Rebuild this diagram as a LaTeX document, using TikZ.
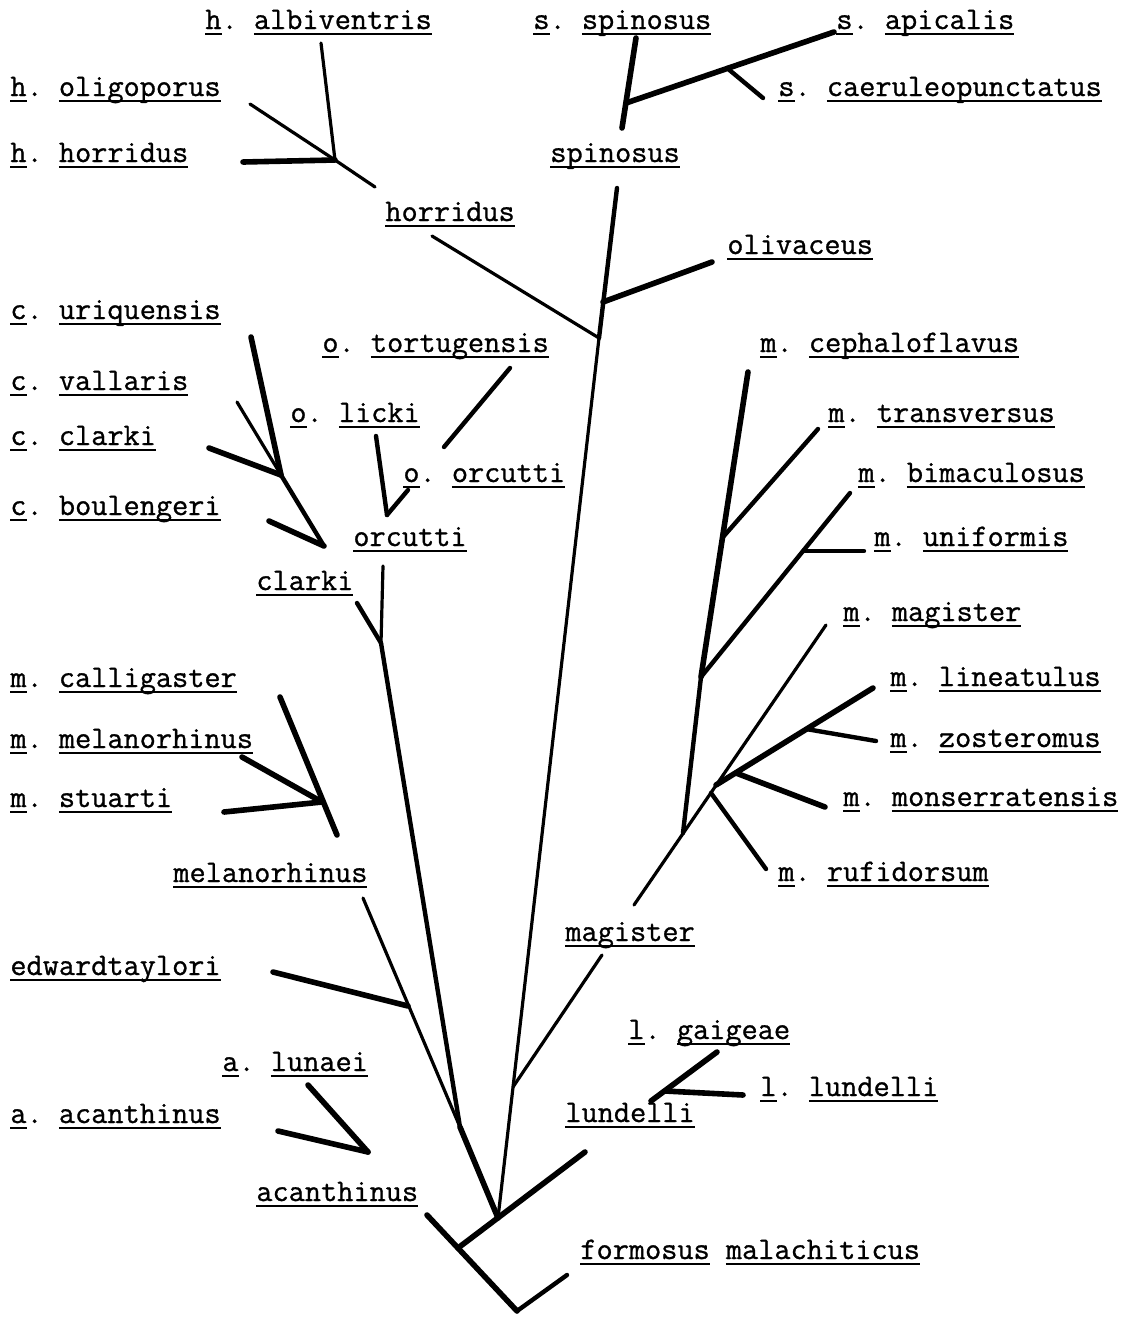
\documentclass[tikz,border=0pt]{standalone}
\usepackage{fontspec}
\usepackage{tikz}

\newfontfamily\typew{lmmono12-regular.otf}[FakeBold=0.9]
\newcommand\typeul[1]{\setbox0=\hbox{#1}\rlap{\rule[-3.1pt]{\wd0}{1.3pt}}\box0}
\newcommand\taxon[2]{\typeul{#1}.\ \typeul{#2}}

\tikzset{
    lbl/.style={anchor=base west, inner sep=0pt, font=\fontsize{15.7}{18}\typew},
    thinbr/.style={line width=1.6pt, line cap=round},
    midbr/.style={line width=2.2pt, line cap=round},
    thickbr/.style={line width=2.8pt, line cap=round},
}

\begin{document}
\begin{tikzpicture}[x=0.5pt, y=-0.5pt]
    \useasboundingbox (0,0) rectangle (1134,1319);

    % --- labels, left column ---
    \node[lbl] (halb) at (205,29) {\taxon{h}{albiventris}};
    \node[lbl] (holi) at (10,96) {\taxon{h}{oligoporus}};
    \node[lbl] (hhor) at (10,162) {\taxon{h}{horridus}};
    \node[lbl] (horr) at (385,221) {\typeul{horridus}};
    \node[lbl] (curi) at (10,319) {\taxon{c}{uriquensis}};
    \node[lbl] (cval) at (10,390) {\taxon{c}{vallaris}};
    \node[lbl] (ccla) at (10,445) {\taxon{c}{clarki}};
    \node[lbl] (cbou) at (10,515) {\taxon{c}{boulengeri}};
    \node[lbl] (otor) at (322,352) {\taxon{o}{tortugensis}};
    \node[lbl] (olic) at (290,422) {\taxon{o}{licki}};
    \node[lbl] (oorc) at (403,482) {\taxon{o}{orcutti}};
    \node[lbl] (orcu) at (353,546) {\typeul{orcutti}};
    \node[lbl] (clar) at (256,590) {\typeul{clarki}};
    \node[lbl] (mcal) at (10,687) {\taxon{m}{calligaster}};
    \node[lbl] (mmel) at (10,748) {\taxon{m}{melanorhinus}};
    \node[lbl] (mstu) at (10,807) {\taxon{m}{stuarti}};
    \node[lbl] (mela) at (173,882) {\typeul{melanorhinus}};
    \node[lbl] (edwa) at (10,975) {\typeul{edwardtaylori}};
    \node[lbl] (alun) at (222,1071) {\taxon{a}{lunaei}};
    \node[lbl] (aaca) at (10,1123) {\taxon{a}{acanthinus}};
    \node[lbl] (acan) at (256,1201) {\typeul{acanthinus}};

    % --- labels, right column ---
    \node[lbl] (sspi) at (533,29) {\taxon{s}{spinosus}};
    \node[lbl] (sapi) at (836,29) {\taxon{s}{apicalis}};
    \node[lbl] (scae) at (778,96) {\taxon{s}{caeruleopunctatus}};
    \node[lbl] (spin) at (550,162) {\typeul{spinosus}};
    \node[lbl] (oliv) at (727,254) {\typeul{olivaceus}};
    \node[lbl] (mcep) at (760,352) {\taxon{m}{cephaloflavus}};
    \node[lbl] (mtra) at (828,422) {\taxon{m}{transversus}};
    \node[lbl] (mbim) at (858,482) {\taxon{m}{bimaculosus}};
    \node[lbl] (muni) at (874,546) {\taxon{m}{uniformis}};
    \node[lbl] (mmag) at (843,621) {\taxon{m}{magister}};
    \node[lbl] (mlin) at (890,686) {\taxon{m}{lineatulus}};
    \node[lbl] (mzos) at (890,747) {\taxon{m}{zosteromus}};
    \node[lbl] (mmon) at (843,806) {\taxon{m}{monserratensis}};
    \node[lbl] (mruf) at (778,881) {\taxon{m}{rufidorsum}};
    \node[lbl] (magi) at (565,941) {\typeul{magister}};
    \node[lbl] (lgai) at (628,1039) {\taxon{l}{gaigeae}};
    \node[lbl] (llun) at (760,1096) {\taxon{l}{lundelli}};
    \node[lbl] (lund) at (565,1122) {\typeul{lundelli}};
    \node[lbl] (form) at (580,1259) {\typeul{formosus}\ \typeul{malachiticus}};

    % --- branch points ---
    \coordinate (hAlb) at (321,43);  \coordinate (hOli) at (250,104);
    \coordinate (hHor) at (243,162); \coordinate (hJ) at (335,160);
    \coordinate (hEnd) at (375,187); \coordinate (hrTop) at (432,236);

    \coordinate (sSpi) at (636,38);  \coordinate (sBot) at (622,128);
    \coordinate (sJ) at (626,103);   \coordinate (sApi) at (834,32);
    \coordinate (sCaeJ) at (727,68); \coordinate (sCae) at (763,98);

    \coordinate (tTop) at (617,188); \coordinate (tOli) at (603,302);
    \coordinate (tHor) at (599,338); \coordinate (tMag) at (513,1087);
    \coordinate (rT) at (498,1218);  \coordinate (oliE) at (712,262);

    \coordinate (cUri) at (251,337); \coordinate (cVal) at (237,402);
    \coordinate (cCla) at (209,448); \coordinate (cJ) at (281,475);
    \coordinate (cBou) at (269,521); \coordinate (cK) at (324,546);

    \coordinate (oTor) at (510,368); \coordinate (oTorE) at (444,447);
    \coordinate (oLic) at (376,436); \coordinate (oOrc) at (408,490);
    \coordinate (oJ) at (387,515);

    \coordinate (orcB) at (383,566); \coordinate (claB) at (357,603);
    \coordinate (lJ) at (381,643);   \coordinate (lM) at (460,1127);

    \coordinate (mCal) at (280,697); \coordinate (mMel) at (242,757);
    \coordinate (mStu) at (224,812); \coordinate (mJ) at (322,802);
    \coordinate (mEnd) at (337,835);

    \coordinate (mlTop) at (363,898); \coordinate (eTay) at (273,972);
    \coordinate (eJ) at (408,1006);

    \coordinate (aLun) at (308,1085); \coordinate (aAca) at (278,1131);
    \coordinate (aJ) at (368,1152);

    \coordinate (acTop) at (427,1215); \coordinate (rJ) at (458,1248);
    \coordinate (rB) at (517,1311);    \coordinate (fmE) at (567,1275);
    \coordinate (luE) at (585,1152);

    \coordinate (mgB) at (602,955);  \coordinate (mgL) at (634,905);
    \coordinate (mgT) at (826,625);
    \coordinate (mcT) at (748,372);  \coordinate (mcB) at (683,833);
    \coordinate (mtT) at (818,429);  \coordinate (mtJ) at (723,537);
    \coordinate (mbT) at (850,493);  \coordinate (mbJ) at (701,677);
    \coordinate (muJ) at (804,551);  \coordinate (muE) at (864,551);
    \coordinate (mlnT) at (873,688); \coordinate (mJ2) at (716,785);
    \coordinate (mzJ) at (806,729);  \coordinate (mzE) at (876,741);
    \coordinate (mmJ) at (736,773);  \coordinate (mmE) at (825,807);
    \coordinate (mR) at (711,793);   \coordinate (mrE) at (766,869);

    \coordinate (lGai) at (717,1052); \coordinate (lGJ) at (651,1101);
    \coordinate (lLJ) at (665,1091);  \coordinate (lLE) at (743,1095);

    % --- horridus ---
    \draw[thinbr] (hAlb) -- (hJ);
    \draw[thinbr] (hOli) -- (hJ) -- (hEnd);
    \draw[thickbr] (hHor) -- (hJ);
    \draw[thinbr] (hrTop) -- (tHor);

    % --- spinosus ---
    \draw[thickbr] (sSpi) -- (sBot);
    \draw[thickbr] (sApi) -- (sJ);
    \draw[midbr] (sCaeJ) -- (sCae);

    % --- trunk ---
    \draw[midbr] (tTop) -- (tHor);
    \draw[thinbr] (tHor) -- (rT);
    \draw[thickbr] (oliE) -- (tOli);
    \draw[thinbr] (mgB) -- (tMag);

    % --- clarki, orcutti ---
    \draw[thickbr] (cUri) -- (cJ);
    \draw[thinbr] (cVal) -- (cJ);
    \draw[thickbr] (cCla) -- (cJ);
    \draw[midbr] (cJ) -- (cK);
    \draw[thickbr] (cBou) -- (cK);
    \draw[midbr] (oTor) -- (oTorE);
    \draw[midbr] (oLic) -- (oJ);
    \draw[midbr] (oOrc) -- (oJ);
    \draw[thinbr] (orcB) -- (lJ);
    \draw[midbr] (claB) -- (lJ);
    \draw[midbr] (lJ) -- (lM);
    \draw[thickbr] (lM) -- (rT);

    % --- melanorhinus ---
    \draw[thickbr] (mCal) -- (mEnd);
    \draw[thickbr] (mMel) -- (mJ);
    \draw[thickbr] (mStu) -- (mJ);
    \draw[thinbr] (mlTop) -- (lM);
    \draw[thickbr] (eTay) -- (eJ);

    % --- acanthinus ---
    \draw[thickbr] (aLun) -- (aJ);
    \draw[thickbr] (aAca) -- (aJ);
    \draw[thickbr] (acTop) -- (rB);
    \draw[midbr] (rB) -- (fmE);
    \draw[thickbr] (luE) -- (rJ);

    % --- magister ---
    \draw[thinbr] (mgL) -- (mgT);
    \draw[thickbr] (mcT) -- (mbJ);
    \draw[midbr] (mbJ) -- (mcB);
    \draw[midbr] (mtT) -- (mtJ);
    \draw[midbr] (mbT) -- (mbJ);
    \draw[midbr] (muJ) -- (muE);
    \draw[thickbr] (mlnT) -- (mJ2);
    \draw[midbr] (mzJ) -- (mzE);
    \draw[thickbr] (mmJ) -- (mmE);
    \draw[midbr] (mR) -- (mrE);

    % --- lundelli ---
    \draw[thickbr] (lGai) -- (lGJ);
    \draw[thickbr] (lLJ) -- (lLE);
\end{tikzpicture}
\end{document}
